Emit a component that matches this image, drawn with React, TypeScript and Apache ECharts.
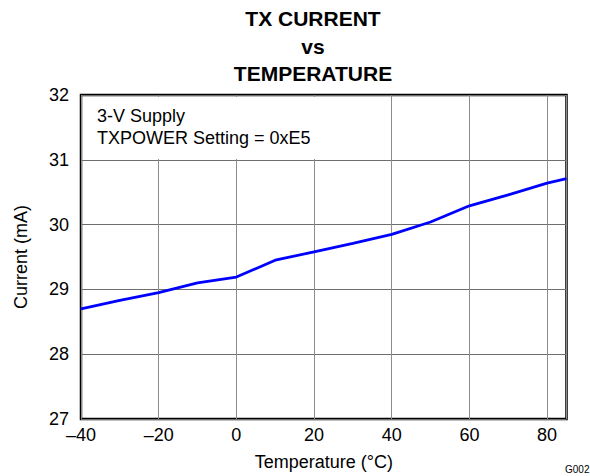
import React, { useEffect, useRef } from "react";
import * as echarts from "echarts";

const temperatures = [-40, -30, -20, -10, 0, 10, 20, 30, 40, 50, 60, 70, 80, 85];
const currents = [28.7, 28.83, 28.95, 29.1, 29.19, 29.45, 29.58, 29.71, 29.85, 30.04, 30.29, 30.46, 30.64, 30.71];
const titleLines = ["TX CURRENT", "vs", "TEMPERATURE"];
const noteLines = ["3-V Supply", "TXPOWER Setting = 0xE5"];

export default function App() {
  const ref = useRef<HTMLDivElement>(null);
  useEffect(() => {
    if (!ref.current) return;
    document.body.style.margin = "0";
    document.body.style.overflow = "hidden";
    const chart = echarts.init(ref.current, undefined, { renderer: "svg" });
    const font = "'Liberation Sans', Arial, sans-serif";
    chart.setOption({
      animation: false,
      backgroundColor: "#fff",
      title: {
        text: titleLines.join("\n"),
        left: 313,
        textAlign: "center",
        top: 5,
        padding: 0,
        textStyle: { fontFamily: font, fontSize: 21, fontWeight: "bold", color: "#000", lineHeight: 27.5 },
      },
      grid: { left: 81, right: 23.5, top: 95, bottom: 53, show: true, borderColor: "#000", borderWidth: 2.5, backgroundColor: "transparent" },
      xAxis: {
        type: "value",
        min: -40,
        max: 85,
        interval: 20,
        name: "Temperature (°C)",
        nameLocation: "middle",
        nameGap: 34,
        nameTextStyle: { fontFamily: font, fontSize: 18, color: "#000" },
        axisLine: { show: false },
        axisTick: { show: false },
        axisLabel: {
          fontFamily: font,
          fontSize: 18,
          color: "#000",
          margin: 7,
          showMaxLabel: false,
          formatter: (v: number) => (v === 85 ? "" : String(v).replace("-", "\u2013")),
        },
        splitLine: { show: true, lineStyle: { color: "#8c8c8c", width: 1 } },
      },
      yAxis: {
        type: "value",
        min: 27,
        max: 32,
        interval: 1,
        name: "Current (mA)",
        nameLocation: "middle",
        nameGap: 51,
        nameTextStyle: { fontFamily: font, fontSize: 18, color: "#000" },
        axisLine: { show: false },
        axisTick: { show: false },
        axisLabel: { fontFamily: font, fontSize: 18, color: "#000", margin: 12 },
        splitLine: { show: true, lineStyle: { color: "#6e6e6e", width: 1 } },
      },
      graphic: [
        {
          type: "rect",
          shape: { x: 83, y: 97, width: 240, height: 62 },
          style: { fill: "#fff" },
          z: 10,
        },
        {
          type: "text",
          x: 97,
          y: 105,
          z: 11,
          style: { text: noteLines.join("\n"), fontFamily: font, fontSize: 18, fill: "#000", lineHeight: 22 },
        },
        {
          type: "text",
          x: 565,
          y: 464,
          z: 11,
          style: { text: "G002", fontFamily: font, fontSize: 10, fill: "#000" },
        },
      ],
      series: [
        {
          type: "line",
          data: temperatures.map((t, i) => [t, currents[i]]),
          showSymbol: false,
          lineStyle: { color: "#0000ff", width: 2.8 },
          z: 5,
        },
      ],
    });
    return () => chart.dispose();
  }, []);
  return <div ref={ref} style={{ width: 590, height: 476 }} />;
}
